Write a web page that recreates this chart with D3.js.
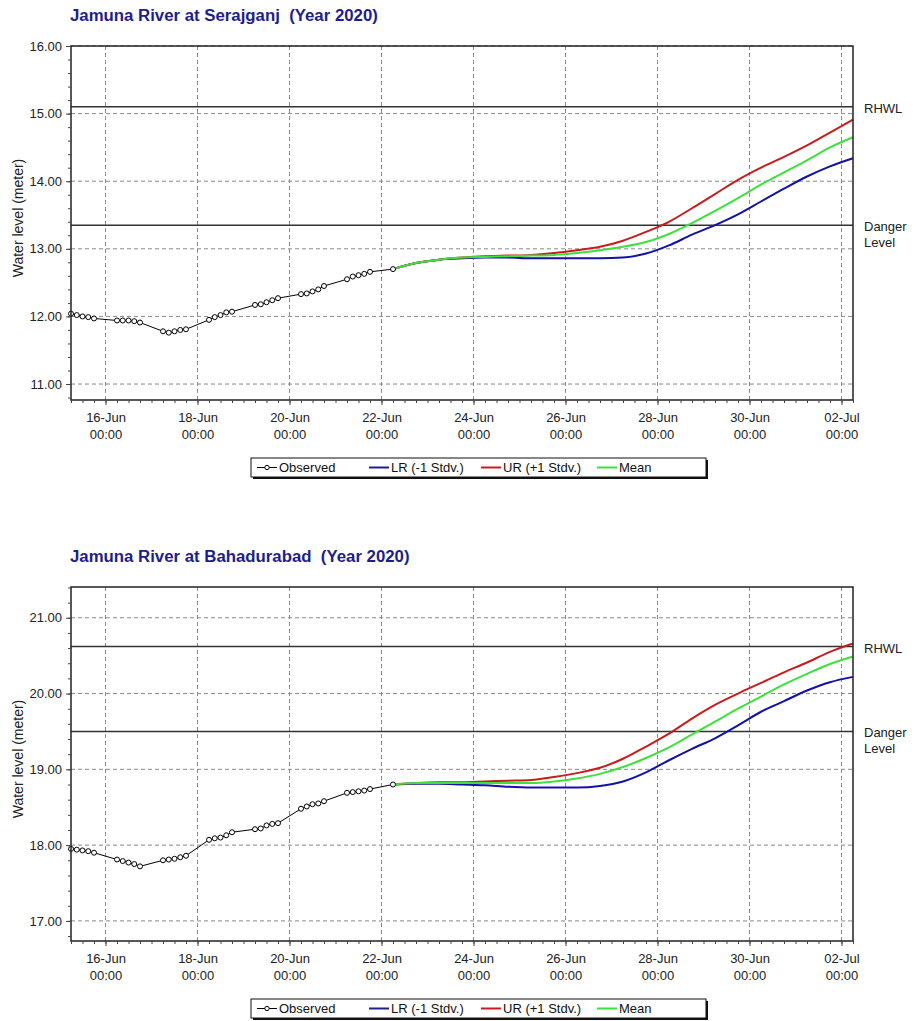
<!DOCTYPE html>
<html>
<head>
<meta charset="utf-8">
<script src="https://cdn.jsdelivr.net/npm/d3@7"></script>
<style>
  body { margin: 0; background: #fff; }
  text { font-family: "Liberation Sans", Arial, sans-serif; }
  .title { white-space: pre; }
</style>
</head>
<body>
<svg id="chart" width="919" height="1021"></svg>
<script>
// observation times (3-hourly daytime readings)
var obsTimes = [
  "2020-06-15T06", "2020-06-15T09", "2020-06-15T12", "2020-06-15T15", "2020-06-15T18",
  "2020-06-16T06", "2020-06-16T09", "2020-06-16T12", "2020-06-16T15", "2020-06-16T18",
  "2020-06-17T06", "2020-06-17T09", "2020-06-17T12", "2020-06-17T15", "2020-06-17T18",
  "2020-06-18T06", "2020-06-18T09", "2020-06-18T12", "2020-06-18T15", "2020-06-18T18",
  "2020-06-19T06", "2020-06-19T09", "2020-06-19T12", "2020-06-19T15", "2020-06-19T18",
  "2020-06-20T06", "2020-06-20T09", "2020-06-20T12", "2020-06-20T15", "2020-06-20T18",
  "2020-06-21T06", "2020-06-21T09", "2020-06-21T12", "2020-06-21T15", "2020-06-21T18",
  "2020-06-22T06"
];

// forecast times
var forecastTimes = [
  "2020-06-22T06", "2020-06-22T18", "2020-06-23T06", "2020-06-23T18", "2020-06-24T06",
  "2020-06-24T18", "2020-06-25T06", "2020-06-25T18", "2020-06-26T06", "2020-06-26T18",
  "2020-06-27T06", "2020-06-27T18", "2020-06-28T06", "2020-06-28T18", "2020-06-29T06",
  "2020-06-29T18", "2020-06-30T06", "2020-06-30T18", "2020-07-01T06", "2020-07-01T18",
  "2020-07-02T06"
];

var xDomain = ["2020-06-15T06", "2020-07-02T06"];
var xTickTimes = ["2020-06-16T00", "2020-06-18T00", "2020-06-20T00", "2020-06-22T00", "2020-06-24T00",
  "2020-06-26T00", "2020-06-28T00", "2020-06-30T00", "2020-07-02T00"];

// Serajganj
var serObserved = [
  12.04, 12.02, 12.00, 11.99, 11.97,
  11.94, 11.94, 11.94, 11.93, 11.91,
  11.78, 11.76, 11.78, 11.80, 11.81,
  11.95, 11.99, 12.02, 12.06, 12.07,
  12.17, 12.18, 12.21, 12.24, 12.27,
  12.33, 12.34, 12.37, 12.40, 12.45,
  12.55, 12.59, 12.61, 12.63, 12.66,
  12.70
];
var serLR = [12.70, 12.79, 12.84, 12.86, 12.87, 12.87, 12.86, 12.86, 12.86, 12.86, 12.87,
  12.93, 13.05, 13.21, 13.35, 13.51, 13.70, 13.89, 14.07, 14.22, 14.34];
var serUR = [12.70, 12.79, 12.84, 12.87, 12.89, 12.90, 12.91, 12.94, 12.98, 13.03, 13.12,
  13.25, 13.40, 13.60, 13.81, 14.02, 14.20, 14.36, 14.53, 14.72, 14.91];
var serMean = [12.70, 12.79, 12.84, 12.87, 12.88, 12.89, 12.90, 12.91, 12.94, 12.98, 13.03,
  13.10, 13.22, 13.38, 13.56, 13.75, 13.95, 14.13, 14.31, 14.50, 14.65];
var serYTicks = [11, 12, 13, 14, 15, 16];
var serYDomain = [10.764, 16.0];
var serRHWL = 15.10;
var serDanger = 13.35;

// Bahadurabad
var bahObserved = [
  17.95, 17.94, 17.93, 17.92, 17.90,
  17.81, 17.79, 17.77, 17.75, 17.72,
  17.80, 17.81, 17.82, 17.84, 17.86,
  18.07, 18.09, 18.10, 18.13, 18.17,
  18.21, 18.22, 18.26, 18.28, 18.29,
  18.48, 18.51, 18.54, 18.55, 18.58,
  18.69, 18.70, 18.71, 18.72, 18.74,
  18.80
];
var bahLR = [18.80, 18.81, 18.81, 18.80, 18.79, 18.77, 18.76, 18.76, 18.76, 18.78, 18.84,
  18.96, 19.12, 19.27, 19.41, 19.58, 19.76, 19.90, 20.04, 20.15, 20.22];
var bahUR = [18.80, 18.82, 18.83, 18.83, 18.84, 18.85, 18.86, 18.90, 18.95, 19.02, 19.14,
  19.30, 19.47, 19.67, 19.85, 20.00, 20.14, 20.28, 20.41, 20.55, 20.66];
var bahMean = [18.80, 18.82, 18.82, 18.82, 18.82, 18.82, 18.82, 18.84, 18.88, 18.94, 19.03,
  19.15, 19.29, 19.46, 19.63, 19.80, 19.96, 20.12, 20.26, 20.39, 20.49];
var bahYTicks = [17, 18, 19, 20, 21];
var bahYDomain = [16.735, 21.406];
var bahRHWL = 20.62;
var bahDanger = 19.50;

var legendLabels = ["Observed", "LR (-1 Stdv.)", "UR (+1 Stdv.)", "Mean"];

var colors = { obs: "#000", lr: "#1212a6", ur: "#c81c1c", mean: "#3ee03e" };

var parse = d3.utcParse("%Y-%m-%dT%H");
var svg = d3.select("#chart");

var panels = [
  { title: "Jamuna River at Serajganj  (Year 2020)", top: 46, yDomain: serYDomain, yTicks: serYTicks,
    rhwl: serRHWL, danger: serDanger, obs: serObserved, lr: serLR, ur: serUR, mean: serMean },
  { title: "Jamuna River at Bahadurabad  (Year 2020)", top: 587, yDomain: bahYDomain, yTicks: bahYTicks,
    rhwl: bahRHWL, danger: bahDanger, obs: bahObserved, lr: bahLR, ur: bahUR, mean: bahMean }
];

panels.forEach(drawPanel);

function drawPanel(p) {
  var left = 71, right = 853, h = 354;
  var top = p.top, bottom = top + h;
  var g = svg.append("g");

  var x = d3.scaleUtc().domain(xDomain.map(parse)).range([left, right]);
  var y = d3.scaleLinear().domain(p.yDomain).range([bottom, top]);

  // title
  g.append("text")
    .attr("class", "title")
    .attr("x", 70).attr("y", top - 25)
    .attr("font-size", 16.8).attr("font-weight", "bold")
    .attr("fill", "#1e1e8e")
    .text(p.title);

  // grid
  g.selectAll(".vgrid").data(xTickTimes.map(parse)).enter().append("line")
    .attr("x1", function(d) { return x(d); }).attr("x2", function(d) { return x(d); })
    .attr("y1", top).attr("y2", bottom)
    .attr("stroke", "#8a8a8a").attr("stroke-dasharray", "4,3");
  g.selectAll(".hgrid").data(p.yTicks).enter().append("line")
    .attr("x1", left).attr("x2", right)
    .attr("y1", function(d) { return y(d); }).attr("y2", function(d) { return y(d); })
    .attr("stroke", "#8a8a8a").attr("stroke-dasharray", "4,3");

  // reference levels
  [p.rhwl, p.danger].forEach(function(v) {
    g.append("line")
      .attr("x1", left).attr("x2", right)
      .attr("y1", y(v)).attr("y2", y(v))
      .attr("stroke", "#333").attr("stroke-width", 1.5);
  });
  g.append("text").attr("x", 864).attr("y", y(p.rhwl) + 6)
    .attr("font-family", "DejaVu Sans").attr("font-size", 13).attr("fill", "#222").text("RHWL");
  g.append("text").attr("x", 864).attr("y", y(p.danger) + 6)
    .attr("font-family", "DejaVu Sans").attr("font-size", 13).attr("fill", "#222").text("Danger");
  g.append("text").attr("x", 864).attr("y", y(p.danger) + 22)
    .attr("font-family", "DejaVu Sans").attr("font-size", 13).attr("fill", "#222").text("Level");

  // series
  var line = d3.line()
    .x(function(d) { return x(d[0]); })
    .y(function(d) { return y(d[1]); });
  var fTimes = forecastTimes.map(parse);
  [["lr", p.lr], ["ur", p.ur], ["mean", p.mean]].forEach(function(s) {
    g.append("path")
      .datum(fTimes.map(function(t, i) { return [t, s[1][i]]; }))
      .attr("d", line.curve(d3.curveMonotoneX))
      .attr("fill", "none").attr("stroke", colors[s[0]]).attr("stroke-width", 2);
  });
  var obsData = obsTimes.map(function(t, i) { return [parse(t), p.obs[i]]; });
  g.append("path").datum(obsData)
    .attr("d", line.curve(d3.curveLinear))
    .attr("fill", "none").attr("stroke", "#000").attr("stroke-width", 1);
  g.selectAll(".obs").data(obsData).enter().append("circle")
    .attr("cx", function(d) { return x(d[0]); })
    .attr("cy", function(d) { return y(d[1]); })
    .attr("r", 2.5).attr("fill", "#fff").attr("stroke", "#000").attr("stroke-width", 1);

  // plot frame
  g.append("rect").attr("x", left).attr("y", top).attr("width", right - left).attr("height", h)
    .attr("fill", "none").attr("stroke", "#222").attr("stroke-width", 1.5);

  // y axis
  var minor = d3.range(Math.ceil(p.yDomain[0] * 5) / 5, p.yDomain[1] + 0.001, 0.2);
  g.append("g").attr("transform", "translate(" + left + ",0)")
    .call(d3.axisLeft(y).tickValues(minor).tickSize(3).tickFormat(""))
    .call(function(a) { a.select(".domain").remove(); a.selectAll("line").attr("stroke", "#444"); });
  g.append("g").attr("transform", "translate(" + left + ",0)")
    .call(d3.axisLeft(y).tickValues(p.yTicks).tickSize(5).tickPadding(4).tickFormat(d3.format(".2f")))
    .call(function(a) {
      a.select(".domain").remove();
      a.selectAll("line").attr("stroke", "#444");
      a.selectAll("text").attr("font-size", 13).attr("font-family", "Liberation Sans, Arial, sans-serif").attr("fill", "#222");
    });

  // x axis
  g.append("g").attr("transform", "translate(0," + bottom + ")")
    .call(d3.axisBottom(x).ticks(d3.utcHour.every(6)).tickSize(3).tickFormat(""))
    .call(function(a) { a.select(".domain").remove(); a.selectAll("line").attr("stroke", "#444"); });
  var xa = g.append("g").attr("transform", "translate(0," + bottom + ")")
    .call(d3.axisBottom(x).tickValues(xTickTimes.map(parse)).tickSize(5).tickFormat(""));
  xa.select(".domain").remove();
  xa.selectAll("line").attr("stroke", "#444");
  xa.selectAll(".tick").each(function(d) {
    var t = d3.select(this);
    t.append("text").attr("y", 22).attr("text-anchor", "middle").attr("font-size", 13)
      .attr("fill", "#222").text(d3.utcFormat("%d-%b")(d));
    t.append("text").attr("y", 39).attr("text-anchor", "middle").attr("font-size", 13)
      .attr("fill", "#222").text(d3.utcFormat("%H:%M")(d));
  });

  // y label
  g.append("text")
    .attr("transform", "translate(23," + (top + h / 2 - 5) + ") rotate(-90)")
    .attr("text-anchor", "middle").attr("font-size", 14).attr("fill", "#222")
    .text("Water level (meter)");

  // legend
  var ly = bottom + 58;
  g.append("rect").attr("x", 253).attr("y", ly + 2).attr("width", 455).attr("height", 19).attr("fill", "#111");
  g.append("rect").attr("x", 251).attr("y", ly).attr("width", 455).attr("height", 19)
    .attr("fill", "#fff").attr("stroke", "#111").attr("stroke-width", 1);
  var legendX = [257, 369, 481, 597];
  var legendColors = [colors.obs, "#202088", colors.ur, colors.mean];
  legendLabels.forEach(function(lbl, i) {
    var lx = legendX[i];
    g.append("line").attr("x1", lx).attr("x2", lx + 20).attr("y1", ly + 9.5).attr("y2", ly + 9.5)
      .attr("stroke", legendColors[i]).attr("stroke-width", i === 0 ? 1 : 2);
    if (i === 0) {
      g.append("circle").attr("cx", lx + 10).attr("cy", ly + 9.5).attr("r", 2.2)
        .attr("fill", "#fff").attr("stroke", "#000");
    }
    g.append("text").attr("x", lx + 22).attr("y", ly + 14).attr("font-size", 13).attr("fill", "#111").text(lbl);
  });
}
</script>
</body>
</html>
